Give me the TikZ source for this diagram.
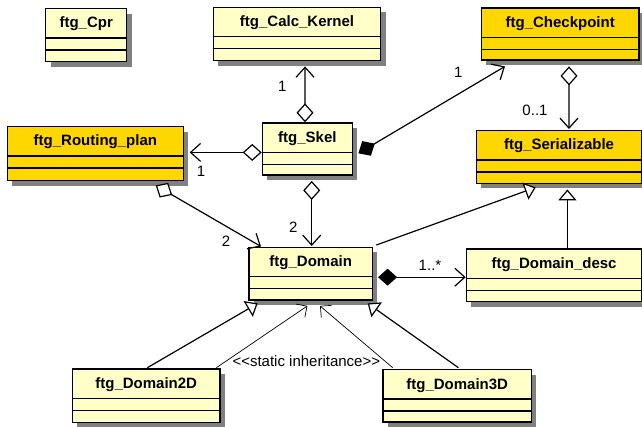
\documentclass[tikz,border=0pt]{standalone}
\usepackage{fontspec}
\setmainfont{Liberation Sans}
\usetikzlibrary{arrows.meta,shadows,calc}
\definecolor{lightyel}{HTML}{FFFFC8}
\definecolor{goldyel}{HTML}{FFD700}
\definecolor{shadowgray}{HTML}{808080}
\tikzset{
  classbox/.style={draw=black, line width=1.4pt, rectangle, inner sep=0pt, anchor=north west,
    drop shadow={shadow xshift=5pt, shadow yshift=-5pt, fill=shadowgray, opacity=1}},
  clsname/.style={font=\fontsize{15}{18}\selectfont\bfseries, anchor=base, inner sep=0pt},
  compline/.style={line width=1.2pt},
  conn/.style={line width=1.2pt},
  thinconn/.style={line width=0.7pt},
  mult/.style={font=\fontsize{15}{18}\selectfont, inner sep=0pt},
  odia/.tip={Diamond[open, length=19pt, width=17pt, fill=white]},
  fdia/.tip={Diamond[length=19pt, width=17pt]},
  barb/.tip={Straight Barb[length=10pt, width=18pt]},
  gentri/.tip={Triangle[open, length=11pt, width=18pt, fill=white]},
}
\newcommand{\umlclass}[7]{%
  \node[classbox, fill=#6, minimum width=#4pt, minimum height=#5pt] (#1) at (#2,#3) {};
  \draw[compline] ($(#1.north west)+(0,30)$) -- ($(#1.north east)+(0,30)$);
  \draw[compline] ($(#1.north west)+(0,42)$) -- ($(#1.north east)+(0,42)$);
  \node[clsname] (#1-name) at ($(#1.north)+(0,20)$) {#7};
}
\begin{document}
\begin{tikzpicture}[x=1pt,y=-1pt]
\useasboundingbox (0,0) rectangle (642,427);
\fill[white] (0,0) rectangle (642,427);
% classes
\umlclass{cpr}{45}{8}{81}{53}{lightyel}{ftg\_Cpr}
\umlclass{calc}{212.7}{6.7}{167.3}{53.3}{lightyel}{ftg\_Calc\_Kernel}
\umlclass{checkpoint}{480.7}{7.3}{157.6}{52}{goldyel}{ftg\_Checkpoint}
\umlclass{skel}{261.7}{122.3}{90}{52}{lightyel}{ftg\_Skel}
\umlclass{routing}{6.7}{126}{176}{54}{goldyel}{ftg\_Routing\_plan}
\umlclass{serial}{475.7}{130}{165.3}{52.7}{goldyel}{ftg\_Serializable}
\umlclass{domain}{248.3}{246.7}{123.4}{52.6}{lightyel}{ftg\_Domain}
\umlclass{desc}{465.7}{248.3}{175.3}{52.7}{lightyel}{ftg\_Domain\_desc}
\umlclass{dtwo}{71.7}{368.3}{147.6}{53.4}{lightyel}{ftg\_Domain2D}
\umlclass{dthree}{382.3}{369}{148.4}{52.3}{lightyel}{ftg\_Domain3D}
% connectors
\draw[conn, odia-barb] ($(skel.north)+(-2.4,0)$) -- ($(calc.south)+(8,5)$);
\draw[conn, odia-barb] ($(skel.west)+(0,3.4)$) -- ($(routing.east)+(5.6,-1.3)$);
\draw[conn, fdia-barb] ($(skel.east)+(5.3,4.3)$) -- ($(checkpoint.south west)+(24.3,5.7)$);
\draw[conn, odia-barb] ($(checkpoint.south)+(8.8,5.7)$) -- ($(serial.north)+(9.95,-1)$);
\draw[conn, odia-barb] ($(skel.south)+(4.3,5.2)$) -- ($(domain.north)+(1,-0.7)$);
\draw[conn, odia-barb] ($(routing.south)+(60.3,4)$) -- ($(domain.north west)+(12.7,-0.2)$);
\draw[conn, -gentri] ($(domain.north east)+(3.3,-1.7)$) -- ($(serial.south)+(-23.35,3.3)$);
\draw[conn, -gentri] ($(desc.north)+(13.35,0)$) -- ($(serial.south)+(8.35,5.3)$);
\draw[conn, fdia-barb] ($(domain.east)+(5,3.5)$) -- ($(desc.west)+(0,1.85)$);
\draw[conn, -gentri] ($(dtwo.north)+(1.2,-0.6)$) -- ($(domain.south)+(-53,2.7)$);
\draw[conn, -gentri] ($(dthree.north)+(1.2,-1.3)$) -- ($(domain.south)+(57,2.7)$);
\draw[thinconn, -{Straight Barb[length=8pt, width=16pt]}] ($(dtwo.north east)+(-4.3,-0.6)$) -- ($(domain.south)+(-3.3,5.2)$);
\draw[thinconn, -{Straight Barb[length=8pt, width=16pt]}] ($(dthree.north west)+(10.4,-1.3)$) -- ($(domain.south)+(9.3,5.2)$);
% labels
\node[mult] (m1) at (282.3,86.7) {1};
\node[mult] (m2) at (201,171.7) {1};
\node[mult] (m3) at (458.3,72.7) {1};
\node[mult] (m4) at (535,110) {0..1};
\node[mult] (m5) at (293.3,227.7) {2};
\node[mult] (m6) at (226,241.7) {2};
\node[mult] (m7) at (430,265) {1..*};
\node[mult] (st) at (306.3,361) {<\kern0pt<static inheritance>\kern0pt>};
\end{tikzpicture}
\end{document}
